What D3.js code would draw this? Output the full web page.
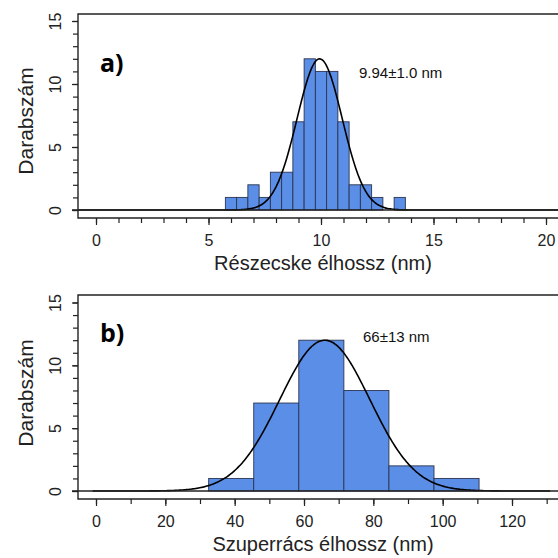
<!DOCTYPE html>
<html lang="hu">
<head>
  <meta charset="UTF-8">
  <title>Hisztogramok</title>
  <style>
    body { margin: 0; background: #ffffff; }
    svg { display: block; font-family: "Liberation Sans", Arial, sans-serif; }
    .axis path { display: none; }
    .axis line { stroke: #222; stroke-width: 1.2; }
    .axis text { font-size: 16px; fill: #222; }
  </style>
</head>
<body>
  <svg id="chart" width="558" height="558"></svg>
  <script src="https://d3js.org/d3.v7.min.js"></script>
  <script>
    // a) részecske élhossz hisztogram (bin közép, darab)
    const binsA = [6, 6.5, 7, 7.5, 8, 8.5, 9, 9.5, 10, 10.5, 11, 11.5, 12, 12.5, 13, 13.5];
    const countsA = [1, 1, 2, 1, 3, 3, 7, 12, 11, 11, 7, 2, 2, 1, 0, 1];
    const binWidthA = 0.5;
    const fitA = { mean: 9.94, sd: 1.0, peak: 12 };
    const xTicksA = [0, 5, 10, 15, 20];

    // b) szuperrács élhossz hisztogram
    const binsB = [39, 52, 65, 78, 91, 104];
    const countsB = [1, 7, 12, 8, 2, 1];
    const binWidthB = 13;
    const fitB = { mean: 66, sd: 13, peak: 12 };
    const xTicksB = [0, 20, 40, 60, 80, 100, 120];

    const yTicks = [0, 5, 10, 15];

    const svg = d3.select("#chart");

    function panel(opt) {
      const g = svg.append("g");
      const x = d3.scaleLinear().domain(opt.xDomain).range(opt.xRange);
      const y = d3.scaleLinear().domain([0, 15]).range([opt.y0, opt.y15]);
      const left = 78, right = 562;

      // bars
      g.selectAll("rect.bar")
        .data(opt.bins.map((c, i) => ({ c, n: opt.counts[i] })).filter(d => d.n > 0))
        .enter().append("rect")
        .attr("class", "bar")
        .attr("x", d => x(d.c - opt.binWidth / 2))
        .attr("width", d => x(d.c + opt.binWidth / 2) - x(d.c - opt.binWidth / 2))
        .attr("y", d => y(d.n))
        .attr("height", d => y(0) - y(d.n))
        .attr("fill", "#5b8ee6")
        .attr("stroke", "#2b3550")
        .attr("stroke-width", 0.9);

      // fitted normal curve
      const xs = d3.range(0, 401).map(i => opt.xDomain[0] + (opt.xDomain[1] - opt.xDomain[0]) * i / 400 * 1.1 - 1);
      const line = d3.line()
        .x(v => x(v))
        .y(v => y(opt.fit.peak * Math.exp(-0.5 * Math.pow((v - opt.fit.mean) / opt.fit.sd, 2))))
        .curve(d3.curveBasis);
      g.append("path")
        .datum(xs.filter(v => x(v) >= left && x(v) <= right))
        .attr("fill", "none")
        .attr("stroke", "#000")
        .attr("stroke-width", 1.6)
        .attr("d", line);

      // zero line and box
      g.append("line").attr("x1", left - 6).attr("x2", right).attr("y1", y(0)).attr("y2", y(0))
        .attr("stroke", "#222").attr("stroke-width", 1.3);
      g.append("path")
        .attr("d", `M${right},${opt.top}H${left}V${opt.bottom}H${right}`)
        .attr("fill", "none").attr("stroke", "#222").attr("stroke-width", 1.4);

      // y axis (minor + major)
      g.append("g").attr("class", "axis").attr("transform", `translate(${left},0)`)
        .call(d3.axisLeft(y).tickValues(d3.range(0, 16)).tickSize(5).tickFormat(""));
      const ya = g.append("g").attr("class", "axis").attr("transform", `translate(${left},0)`)
        .call(d3.axisLeft(y).tickValues(yTicks).tickSize(6));
      ya.selectAll("text")
        .attr("x", 0).attr("dy", 0)
        .attr("text-anchor", "middle")
        .attr("transform", "translate(-17,0) rotate(-90)");

      // x axis (minor + major)
      g.append("g").attr("class", "axis").attr("transform", `translate(0,${opt.bottom})`)
        .call(d3.axisBottom(x).tickValues(d3.range(opt.xDomain[0], opt.xDomain[1] + opt.minor * 1.5, opt.minor)).tickSize(5).tickFormat(""));
      const xa = g.append("g").attr("class", "axis").attr("transform", `translate(0,${opt.bottom})`)
        .call(d3.axisBottom(x).tickValues(opt.xTicks).tickSize(7));
      xa.selectAll("text").attr("y", 28).attr("dy", 0);

      // titles
      g.append("text")
        .attr("transform", `translate(33,${opt.yTitleY}) rotate(-90)`)
        .attr("text-anchor", "middle")
        .style("font-size", "21px").style("fill", "#222")
        .text("Darabszám");
      g.append("text")
        .attr("x", 323).attr("y", opt.xTitleY)
        .attr("text-anchor", "middle")
        .style("font-size", "20px").style("fill", "#222")
        .text(opt.xTitle);

      g.append("text")
        .attr("x", 100).attr("y", opt.letterY)
        .style("font-family", "'Open Sans', 'Noto Sans', sans-serif")
        .style("font-weight", "bold").style("font-size", "25px").style("fill", "#000")
        .text(opt.letter);
      g.append("text")
        .attr("x", opt.noteX).attr("y", opt.noteY)
        .style("font-size", "15px").style("fill", "#111")
        .text(opt.note);
    }

    panel({
      xDomain: [0, 20], xRange: [96, 546], y0: 210, y15: 21, top: 14, bottom: 218,
      bins: binsA, counts: countsA, binWidth: binWidthA, fit: fitA, xTicks: xTicksA, minor: 1,
      xTitle: "Részecske élhossz (nm)", xTitleY: 270, yTitleY: 121,
      letter: "a)", letterY: 72, note: "9.94±1.0 nm", noteX: 359, noteY: 78
    });

    panel({
      xDomain: [0, 120], xRange: [96, 512], y0: 491, y15: 302.5, top: 295, bottom: 499,
      bins: binsB, counts: countsB, binWidth: binWidthB, fit: fitB, xTicks: xTicksB, minor: 10,
      xTitle: "Szuperrács élhossz (nm)", xTitleY: 551, yTitleY: 393,
      letter: "b)", letterY: 342, note: "66±13 nm", noteX: 363, noteY: 342
    });
  </script>
</body>
</html>
